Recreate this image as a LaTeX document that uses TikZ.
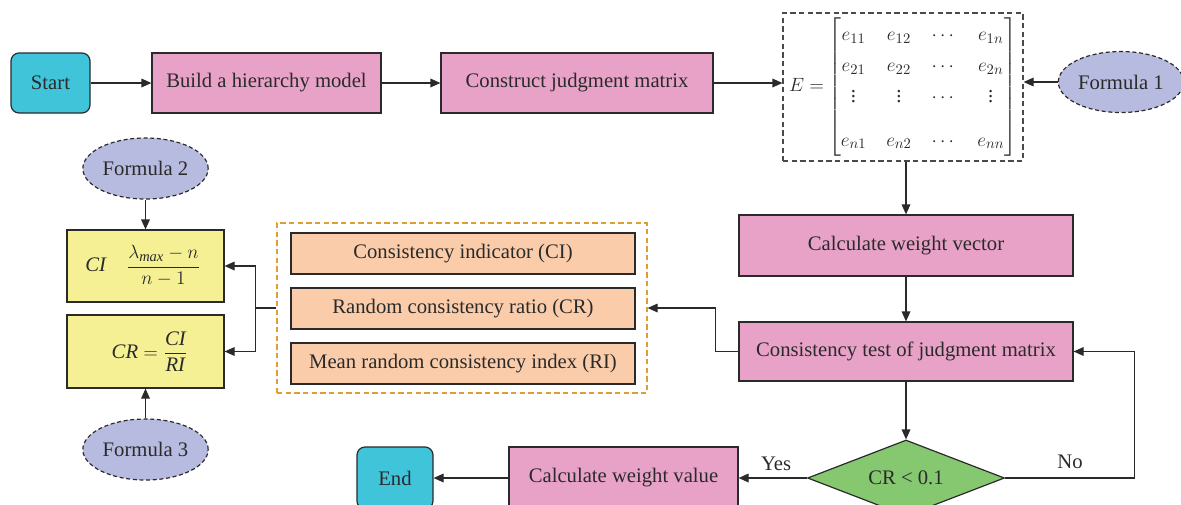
\documentclass[tikz,border=0pt]{standalone}
\usepackage{amsmath}
\usepackage{fontspec}
\setmainfont{Liberation Serif}
\usetikzlibrary{arrows.meta,shapes.geometric}
\definecolor{ccyan}{HTML}{40C4DA}
\definecolor{cpink}{HTML}{E8A2C8}
\definecolor{cpeach}{HTML}{FBCCAA}
\definecolor{cyell}{HTML}{F5F093}
\definecolor{clav}{HTML}{B7BBDF}
\definecolor{cgreen}{HTML}{86C86F}
\definecolor{corange}{HTML}{DDA030}
\definecolor{cline}{HTML}{2A2A2A}
\tikzset{
  base/.style={draw=cline, line width=0.9pt, inner sep=0pt, align=center, font=\fontsize{15.5}{18}\selectfont, text=cline},
  termbox/.style={base, fill=ccyan, rounded corners=6pt},
  procbox/.style={base, fill=cpink},
  peachbox/.style={base, fill=cpeach, minimum width=258pt, minimum height=30.75pt},
  yellbox/.style={base, fill=cyell, minimum width=117.75pt},
  formula/.style={base, ellipse, fill=clav, dash pattern=on 3pt off 2pt, minimum width=94pt, minimum height=45.75pt},
  conn/.style={draw=cline, line width=0.9pt, -{Triangle[length=7.5pt,width=6.5pt]}},
  plain/.style={draw=cline, line width=0.9pt},
  lbl/.style={font=\fontsize{15.5}{18}\selectfont, text=cline}
}
\begin{document}
\begin{tikzpicture}[x=0.75pt,y=-0.75pt]
\useasboundingbox (0,0) rectangle (1181,504);
% top row
\node[termbox, minimum width=59.25pt, minimum height=45pt] (start) at (50.5,83) {Start};
\node[procbox, minimum width=171.75pt, minimum height=45pt] (build) at (266.5,83) {Build a hierarchy model};
\node[procbox, minimum width=204pt, minimum height=45pt] (constr) at (577,83) {Construct judgment matrix};
\node[base, draw=cline!85, dash pattern=on 4pt off 2.5pt, minimum width=180pt, minimum height=111pt] (mat) at (903,87) {%
  {\setlength\arraycolsep{7.5pt}\renewcommand\arraystretch{1.3}%
  $E=\hspace{-1pt}\begin{bmatrix} e_{11} & e_{12} & \cdots & e_{1n}\\ e_{21} & e_{22} & \cdots & e_{2n}\\ \vdots & \vdots & \cdots & \vdots\\[9pt] e_{n1} & e_{n2} & \cdots & e_{nn}\end{bmatrix}$}};
\node[formula] (f1) at (1121,82) {Formula 1};
% right column
\node[procbox, minimum width=250.5pt, minimum height=45.75pt] (cwv) at (906,245.5) {Calculate weight vector};
\node[procbox, minimum width=250.5pt, minimum height=44.25pt] (ctest) at (906,351.5) {Consistency test of judgment matrix};
\node[base, diamond, shape aspect=2.6, fill=cgreen, minimum width=147.75pt, minimum height=57pt] (dia) at (906,478) {CR < 0.1};
\node[procbox, minimum width=171.75pt, minimum height=46.5pt] (cwval) at (623.5,478) {Calculate weight value};
\node[termbox, minimum width=57pt, minimum height=46.5pt] (end) at (395,478) {End};
% middle dashed group
\node[draw=corange, dash pattern=on 4pt off 2.5pt, line width=0.9pt, minimum width=277.5pt, minimum height=127.5pt, inner sep=0pt] (obox) at (462,308) {};
\node[peachbox] (pci) at (463,253.5) {Consistency indicator (CI)};
\node[peachbox] (pcr) at (463,308.5) {Random consistency ratio (CR)};
\node[peachbox] (pri) at (463,363.5) {Mean random consistency index (RI)};
% left column
\node[formula] (f2) at (145.5,168.5) {Formula 2};
\node[yellbox, minimum height=54pt] (yci) at (145.5,266) {$\mathit{CI}\quad\dfrac{\lambda_{\mathit{max}}-n}{n-1}$\hspace{4pt}};
\node[yellbox, minimum height=54.75pt] (ycr) at (145.5,351.5) {\hspace{6pt}$\mathit{CR}=\dfrac{\mathit{CI}}{\mathit{RI}}$};
\node[formula] (f3) at (145.5,449.5) {Formula 3};
% connectors
\draw[conn] (start) -- (build);
\draw[conn] (build) -- (constr);
\draw[conn] (constr) -- (mat.west |- constr.east);
\draw[conn] (f1) -- (mat.east |- f1.west);
\draw[conn] (cwv.north |- mat.south) -- (cwv.north);
\draw[conn] (cwv) -- (ctest);
\draw[conn] (ctest) -- (dia);
\draw[conn] (ctest.west) -- ++(-23,0) |- (obox.east);
\draw[conn] (dia.east) -- ++(129,0) |- (ctest.east);
\draw[conn] (dia) -- node[lbl, above, pos=0.45, yshift=2pt] {Yes} (cwval);
\node[lbl] (nolbl) at (1070,462) {No};
\draw[conn] (cwval) -- (end);
\draw[plain] (obox.west) -- ++(-21,0) coordinate (j);
\draw[conn] (j) |- (yci.east);
\draw[conn] (j) |- (ycr.east);
\draw[conn] (f2) -- (yci);
\draw[conn] (f3) -- (ycr);
\end{tikzpicture}
\end{document}
